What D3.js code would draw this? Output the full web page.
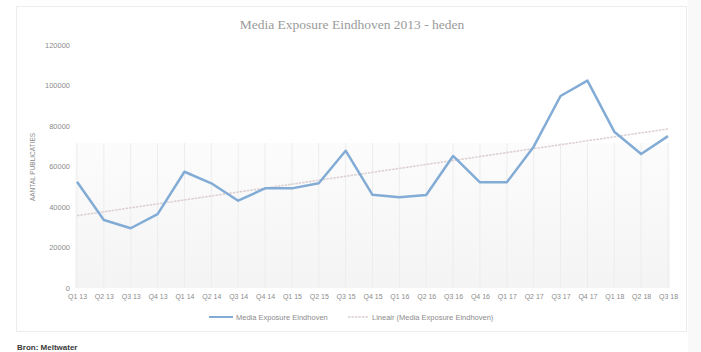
<!DOCTYPE html>
<html>
<head>
<meta charset="utf-8">
<script src="https://cdn.jsdelivr.net/npm/d3@7"></script>
<style>
  html, body { margin: 0; padding: 0; background: #ffffff; }
  svg { display: block; }
</style>
</head>
<body>
<svg id="chart" width="701" height="352"></svg>
<script>
// Quarterly media exposure counts
const quarters = ["Q1 13","Q2 13","Q3 13","Q4 13","Q1 14","Q2 14","Q3 14","Q4 14",
                  "Q1 15","Q2 15","Q3 15","Q4 15","Q1 16","Q2 16","Q3 16","Q4 16",
                  "Q1 17","Q2 17","Q3 17","Q4 17","Q1 18","Q2 18","Q3 18"];
const exposure = [52500, 33600, 29500, 36500, 57400, 51700, 43100, 49200,
                  49200, 51700, 67800, 46000, 44800, 45900, 65200, 52200,
                  52200, 69800, 94800, 102400, 77200, 66200, 75000];
const yTicks = [0, 20000, 40000, 60000, 80000, 100000, 120000];
const bandTopValue = 71600;

const title = "Media Exposure Eindhoven 2013 - heden";
const yTitle = "AANTAL PUBLICATIES";
const seriesName = "Media Exposure Eindhoven";
const trendName = "Lineair (Media Exposure Eindhoven)";
const source = "Bron: Meltwater";

const svg = d3.select("#chart");
const W = 701, H = 352;

// faint strip on the right outside the chart box
svg.append("rect").attr("x", 688).attr("y", 0).attr("width", W - 688).attr("height", H)
  .attr("fill", "#f9f9f9");

// chart frame
svg.append("rect").attr("x", 16.5).attr("y", 6.5).attr("width", 670).attr("height", 325)
  .attr("fill", "#ffffff").attr("stroke", "#ececec").attr("stroke-width", 1);

const x = d3.scalePoint().domain(quarters).range([77, 668]);
const y = d3.scaleLinear().domain([0, 120000]).range([288, 45]);

// soft gradient band behind the series
const defs = svg.append("defs");
const grad = defs.append("linearGradient").attr("id", "bandGrad")
  .attr("x1", 0).attr("y1", 0).attr("x2", 0).attr("y2", 1);
grad.append("stop").attr("offset", "0%").attr("stop-color", "#fcfcfc");
grad.append("stop").attr("offset", "100%").attr("stop-color", "#f4f4f4");

const x0 = x(quarters[0]), x1 = x(quarters[quarters.length - 1]);
svg.append("rect")
  .attr("x", x0 - 2).attr("y", y(bandTopValue))
  .attr("width", x1 - x0 + 4).attr("height", y(0) - y(bandTopValue))
  .attr("fill", "url(#bandGrad)");

// vertical category lines inside the band
svg.append("g").selectAll("line").data(quarters).join("line")
  .attr("x1", d => x(d)).attr("x2", d => x(d))
  .attr("y1", y(bandTopValue)).attr("y2", y(0))
  .attr("stroke", "#ededed").attr("stroke-width", 1);

// y axis labels
const yAxis = d3.axisLeft(y).tickValues(yTicks).tickSize(0).tickPadding(0).tickFormat(d3.format("d"));
const gy = svg.append("g").attr("transform", "translate(70,0)").call(yAxis);
gy.select(".domain").remove();
gy.selectAll("text").attr("fill", "#8c8c8c").attr("font-size", 7.5)
  .attr("font-family", "Liberation Sans, Arial, sans-serif");

// x axis labels
const xAxis = d3.axisBottom(x).tickSize(0).tickPadding(0);
const gx = svg.append("g").attr("transform", "translate(0,294)").call(xAxis);
gx.select(".domain").remove();
gx.selectAll("text").attr("fill", "#8c8c8c").attr("font-size", 7)
  .attr("font-family", "Liberation Sans, Arial, sans-serif");

// y axis title
svg.append("text")
  .attr("transform", "translate(35,167) rotate(-90)")
  .attr("text-anchor", "middle")
  .attr("font-family", "Liberation Sans, Arial, sans-serif")
  .attr("font-size", 6.5).attr("fill", "#8c8c8c")
  .text(yTitle);

// linear trend (least squares over the quarter index)
const n = exposure.length;
const idx = d3.range(n);
const mx = d3.mean(idx), my = d3.mean(exposure);
const slope = d3.sum(idx, i => (i - mx) * (exposure[i] - my)) / d3.sum(idx, i => (i - mx) ** 2);
const intercept = my - slope * mx;
const trend = idx.map(i => intercept + slope * i);

const line = d3.line().x((d, i) => x(quarters[i])).y(d => y(d));

svg.append("path").datum(trend)
  .attr("d", line)
  .attr("fill", "none").attr("stroke", "#dccfcf").attr("stroke-width", 1.5)
  .attr("stroke-dasharray", "2.5,1");

svg.append("path").datum(exposure)
  .attr("d", line)
  .attr("fill", "none").attr("stroke", "#82acd5").attr("stroke-width", 2.5)
  .attr("stroke-linejoin", "round");

// title
svg.append("text")
  .attr("x", 352).attr("y", 29).attr("text-anchor", "middle")
  .attr("font-family", "Liberation Serif, DejaVu Serif, serif")
  .attr("font-size", 13.5).attr("fill", "#9a9a9a")
  .text(title);

// legend
const lg = svg.append("g").attr("font-family", "Liberation Sans, Arial, sans-serif")
  .attr("font-size", 7.5).attr("fill", "#8c8c8c");
lg.append("line").attr("x1", 209).attr("x2", 233).attr("y1", 317).attr("y2", 317)
  .attr("stroke", "#82acd5").attr("stroke-width", 2);
lg.append("text").attr("x", 236).attr("y", 320).text(seriesName);
lg.append("line").attr("x1", 348).attr("x2", 369).attr("y1", 317).attr("y2", 317)
  .attr("stroke", "#dccfcf").attr("stroke-width", 1.5).attr("stroke-dasharray", "2.5,1");
lg.append("text").attr("x", 372).attr("y", 320).text(trendName);

// source note
svg.append("text")
  .attr("x", 17).attr("y", 350)
  .attr("font-family", "Liberation Sans, Arial, sans-serif")
  .attr("font-size", 8).attr("font-weight", "bold").attr("fill", "#3a3a3a")
  .text(source);
</script>
</body>
</html>
